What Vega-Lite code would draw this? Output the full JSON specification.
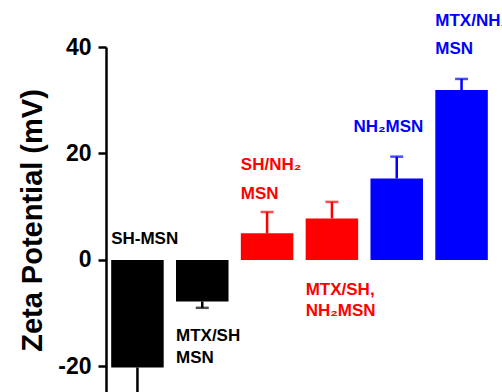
{
  "$schema": "https://vega.github.io/schema/vega-lite/v6.json",
  "width": 387,
  "height": 346,
  "autosize": {"type": "none"},
  "padding": {"left": 106, "top": 47, "right": 9, "bottom": 0},
  "background": "white",
  "config": {"view": {"stroke": null}, "font": "Liberation Sans"},
  "datasets": {
    "bars": [
      {"sample": "SH-MSN", "zeta": -20.2, "err": -26.5, "group": "SH"},
      {"sample": "MTX/SH MSN", "zeta": -7.8, "err": -9.0, "group": "SH"},
      {"sample": "SH/NH2 MSN", "zeta": 5.0, "err": 9.0, "group": "SH/NH2"},
      {"sample": "MTX/SH,NH2 MSN", "zeta": 7.8, "err": 10.9, "group": "SH/NH2"},
      {"sample": "NH2 MSN", "zeta": 15.3, "err": 19.4, "group": "NH2"},
      {"sample": "MTX/NH2 MSN", "zeta": 31.9, "err": 34.0, "group": "NH2"}
    ],
    "labels": [
      {"sample": "SH-MSN", "line": "SH-MSN", "ly": 3.0, "group": "SH"},
      {"sample": "MTX/SH MSN", "line": "MTX/SH", "ly": -15.2, "group": "SH"},
      {"sample": "MTX/SH MSN", "line": "MSN", "ly": -19.35, "group": "SH"},
      {"sample": "SH/NH2 MSN", "line": "SH/NH₂", "ly": 16.9, "group": "SH/NH2"},
      {"sample": "SH/NH2 MSN", "line": "MSN", "ly": 11.5, "group": "SH/NH2"},
      {"sample": "MTX/SH,NH2 MSN", "line": "MTX/SH,", "ly": -6.6, "group": "SH/NH2"},
      {"sample": "MTX/SH,NH2 MSN", "line": "NH₂MSN", "ly": -10.5, "group": "SH/NH2"},
      {"sample": "NH2 MSN", "line": "NH₂MSN", "ly": 24.0, "group": "NH2"},
      {"sample": "MTX/NH2 MSN", "line": "MTX/NH₂", "ly": 44.0, "group": "NH2"},
      {"sample": "MTX/NH2 MSN", "line": "MSN", "ly": 38.7, "group": "NH2"}
    ]
  },
  "encoding": {
    "x": {
      "field": "sample",
      "type": "nominal",
      "sort": ["SH-MSN", "MTX/SH MSN", "SH/NH2 MSN", "MTX/SH,NH2 MSN", "NH2 MSN", "MTX/NH2 MSN"],
      "scale": {"paddingInner": 0.19, "paddingOuter": 0.08},
      "axis": null
    },
    "color": {
      "field": "group",
      "type": "nominal",
      "scale": {"domain": ["SH", "SH/NH2", "NH2"], "range": ["#000000", "#ff0000", "#0000ff"]},
      "legend": null
    }
  },
  "layer": [
    {
      "data": {"name": "bars"},
      "mark": {"type": "rule", "strokeWidth": 2.5},
      "encoding": {
        "y": {"field": "zeta", "type": "quantitative"},
        "y2": {"field": "err"}
      }
    },
    {
      "data": {"name": "bars"},
      "mark": {"type": "tick", "size": 13, "thickness": 2.5},
      "encoding": {
        "y": {"field": "err", "type": "quantitative"}
      }
    },
    {
      "data": {"name": "bars"},
      "mark": {"type": "bar"},
      "encoding": {
        "y": {
          "field": "zeta",
          "type": "quantitative",
          "scale": {"domain": [-25, 40], "nice": false, "zero": false},
          "axis": {
            "values": [-20, 0, 20, 40],
            "labelExpr": "datum.value < 0 ? '-' + abs(datum.value) : '' + datum.value",
            "grid": false,
            "domainColor": "#000000",
            "domainWidth": 2.5,
            "tickColor": "#000000",
            "tickWidth": 2.5,
            "tickSize": 8,
            "labelFontSize": 23,
            "labelFontWeight": "bold",
            "labelColor": "#000000",
            "labelPadding": 7,
            "title": "Zeta Potential (mV)",
            "titleFontSize": 29,
            "titleFontWeight": "bold",
            "titleColor": "#000000",
            "titlePadding": 10
          }
        }
      }
    },
    {
      "mark": {"type": "rule", "strokeWidth": 2.5, "color": "#000000"},
      "encoding": {"y": {"datum": 0}, "x": null, "color": null}
    },
    {
      "data": {"name": "labels"},
      "transform": [{"filter": "datum.sample != 'NH2 MSN'"}],
      "mark": {"type": "text", "align": "left", "baseline": "alphabetic", "fontSize": 17, "fontWeight": "bold", "dx": 0},
      "encoding": {
        "x": {"field": "sample", "type": "nominal", "bandPosition": 0},
        "y": {"field": "ly", "type": "quantitative"},
        "text": {"field": "line"}
      }
    },
    {
      "data": {"name": "labels"},
      "transform": [{"filter": "datum.sample == 'NH2 MSN'"}],
      "mark": {"type": "text", "align": "left", "baseline": "alphabetic", "fontSize": 17, "fontWeight": "bold", "dx": -17},
      "encoding": {
        "x": {"field": "sample", "type": "nominal", "bandPosition": 0},
        "y": {"field": "ly", "type": "quantitative"},
        "text": {"field": "line"}
      }
    }
  ]
}
